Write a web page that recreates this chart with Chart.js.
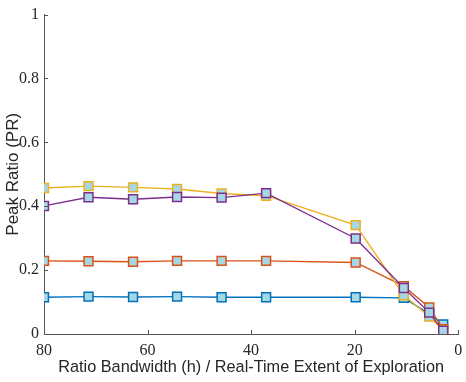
<!DOCTYPE html>
<html>
<head>
<meta charset="utf-8">
<script src="https://cdn.jsdelivr.net/npm/chart.js@4/dist/chart.umd.min.js"></script>
<style>
  html, body { margin: 0; padding: 0; background: #fff; }
  #wrap { width: 466px; height: 382px; }
</style>
</head>
<body>
<div id="wrap"><canvas id="c" width="466" height="382"></canvas></div>
<script>
  // x positions (ratio bandwidth / real-time extent)
  const xValues = [80, 71.4, 62.8, 54.3, 45.7, 37.1, 19.8, 10.5, 5.6, 2.9];

  const blueSeries   = [0.115, 0.117, 0.116, 0.117, 0.115, 0.115, 0.115, 0.113, 0.063, 0.030];
  const orangeSeries = [0.229, 0.228, 0.226, 0.229, 0.229, 0.229, 0.224, 0.150, 0.083, 0.015];
  const yellowSeries = [0.457, 0.463, 0.459, 0.454, 0.440, 0.433, 0.341, 0.121, 0.055, 0.012];
  const purpleSeries = [0.401, 0.428, 0.422, 0.429, 0.427, 0.441, 0.299, 0.144, 0.067, 0.010];

  const xTicks = [0, 20, 40, 60, 80];
  const yTicks = [0, 0.2, 0.4, 0.6, 0.8, 1];

  const AXIS_COLOR = "#555";
  const TEXT_COLOR = "#262626";
  const MARKER_FILL = "#a6d8e3";
  const SERIF = "Liberation Serif, DejaVu Serif, serif";
  const SANS = "Liberation Sans, Arial, sans-serif";

  function series(values, color, order) {
    return {
      data: values.map((v, i) => ({ x: xValues[i], y: v })),
      borderColor: color,
      backgroundColor: MARKER_FILL,
      pointBorderColor: color,
      pointBackgroundColor: MARKER_FILL,
      pointStyle: "rect",
      pointRadius: 6.3,
      pointBorderWidth: 1.5,
      borderWidth: 1.4,
      tension: 0,
      order,
    };
  }

  // MATLAB-style inward tick marks
  const innerTicks = {
    id: "innerTicks",
    afterDraw(chart) {
      const { ctx, chartArea: a, scales } = chart;
      ctx.save();
      ctx.strokeStyle = AXIS_COLOR;
      ctx.lineWidth = 1;
      ctx.beginPath();
      xTicks.forEach((t) => {
        const px = Math.round(scales.x.getPixelForValue(t)) + 0.5;
        ctx.moveTo(px, a.bottom);
        ctx.lineTo(px, a.bottom - 4);
      });
      yTicks.forEach((t) => {
        const py = Math.round(scales.y.getPixelForValue(t)) + 0.5;
        ctx.moveTo(a.left, py);
        ctx.lineTo(a.left + 4, py);
      });
      ctx.stroke();
      ctx.restore();
    },
  };

  function draw() {
    new Chart(document.getElementById("c"), {
      type: "line",
      data: {
        datasets: [
          series(purpleSeries, "#7e2f8e", 0),
          series(yellowSeries, "#edb120", 1),
          series(orangeSeries, "#d95319", 2),
          series(blueSeries, "#0072bd", 3),
        ],
      },
      options: {
        responsive: false,
        animation: false,
        layout: { padding: { top: 6, right: 5, left: 3, bottom: 5 } },
        plugins: { legend: { display: false }, tooltip: { enabled: false } },
        scales: {
          x: {
            type: "linear",
            reverse: true,
            min: 0,
            max: 80,
            afterBuildTicks: (s) => { s.ticks = xTicks.map((v) => ({ value: v })); },
            afterFit: (s) => { s.height = 43; },
            grid: { display: false, drawTicks: false },
            border: { display: true, color: AXIS_COLOR, width: 1 },
            ticks: {
              color: TEXT_COLOR,
              padding: 7,
              maxRotation: 0,
              font: { family: SERIF, size: 16 },
            },
            title: {
              display: true,
              text: "Ratio Bandwidth (h) / Real-Time Extent of Exploration",
              color: TEXT_COLOR,
              padding: { top: 0, bottom: 0 },
              font: { family: SANS, size: 16.3 },
            },
          },
          y: {
            type: "linear",
            min: 0,
            max: 1,
            afterBuildTicks: (s) => { s.ticks = yTicks.map((v) => ({ value: v })); },
            afterFit: (s) => { s.width = 41; },
            grid: { display: false, drawTicks: false },
            border: { display: true, color: AXIS_COLOR, width: 1 },
            ticks: {
              color: TEXT_COLOR,
              padding: 5,
              font: { family: SERIF, size: 16 },
              callback: (v) => String(Math.round(v * 10) / 10),
            },
            title: {
              display: true,
              text: "Peak Ratio (PR)",
              color: TEXT_COLOR,
              padding: { top: 0, bottom: 0 },
              font: { family: SANS, size: 17 },
            },
          },
        },
      },
      plugins: [innerTicks],
    });
  }

  if (document.fonts && document.fonts.load) {
    Promise.all([
      document.fonts.load("16px 'Liberation Serif'"),
      document.fonts.load("16px 'Liberation Sans'"),
    ]).then(draw, draw);
  } else {
    draw();
  }
</script>
</body>
</html>
